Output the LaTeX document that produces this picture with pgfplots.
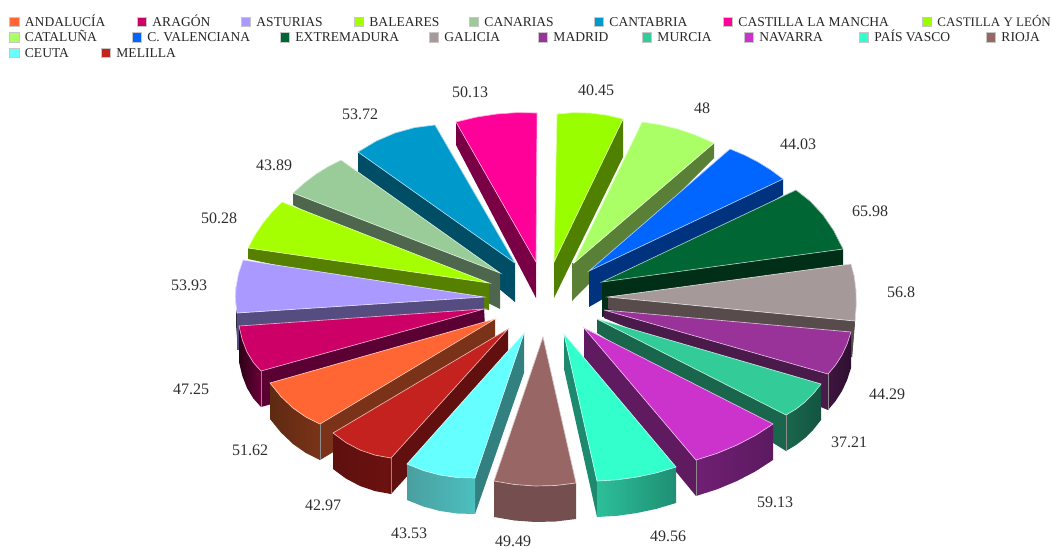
\documentclass[border=0pt]{standalone}
\usepackage{fontspec}
\setmainfont{Liberation Serif}
\usepackage{pgfplots}
\pgfplotsset{compat=1.18}
\newcommand\hc[1]{\definecolor{c#1}{HTML}{#1}}
\hc{4F8000}\hc{99FF00}\hc{5A8038}\hc{AAFF66}\hc{00337F}\hc{0066FF}\hc{002E17}\hc{006633}\hc{332B2B}\hc{574B4B}\hc{A69999}\hc{4A1A4A}\hc{3F1540}\hc{2E0F30}\hc{993399}\hc{1A664D}\hc{135540}\hc{33CC99}\hc{5F1A60}\hc{6F1F72}\hc{5C1A60}\hc{CC33CC}\hc{1D8A6F}\hc{2CBF99}\hc{1F8F74}\hc{33FFCC}\hc{7A0046}\hc{FF0099}\hc{004D66}\hc{0099CC}\hc{4D664D}\hc{99CC99}\hc{558000}\hc{A6FF00}\hc{2E2A40}\hc{554D80}\hc{AA99FF}\hc{5A0032}\hc{2E0018}\hc{6A0038}\hc{CC0066}\hc{7A3318}\hc{5E2A12}\hc{FF6633}\hc{62100F}\hc{5E100E}\hc{6B1210}\hc{C4221F}\hc{338080}\hc{4A9FA0}\hc{4CBFBF}\hc{66FFFF}\hc{754F4F}\hc{996666}
\newcommand\topf[2]{\addplot[fill=c#1,draw=white!65!c#1,line width=0.5pt] coordinates {#2} --cycle;}
\newcommand\side[2]{\addplot[fill=c#1,draw=none] coordinates {#2} --cycle;}
\newcommand\grad[3]{\addplot[left color=c#1,right color=c#2,draw=none] coordinates {#3} --cycle;}
\newcommand\seam[1]{\addplot[draw=white!55!black,line width=0.4pt] coordinates {#1};}
\newcommand\leg[4]{\addplot[only marks,mark=square*,mark size=3.6pt,mark options={fill=c#1,draw=black!22,line width=0.5pt}] coordinates {(#2,#3)};
 \node[anchor=base west,inner sep=0pt,text=black!85,font=\fontsize{10.15}{10}\selectfont] at (axis cs:#2+10.2,#3+4.4) {#4};}
\newcommand\val[3]{\node[text=black!82,font=\fontsize{12}{12}\selectfont,inner sep=0pt] at (axis cs:#1,#2) {#3};}
\begin{document}
\begin{tikzpicture}
\path[use as bounding box] (0,0) rectangle (789pt,411.75pt);
\begin{axis}[at={(0,0)},anchor=south west,scale only axis,width=789pt,height=411.75pt,
 xmin=0,xmax=1052,ymin=0,ymax=549,y dir=reverse,hide axis,clip=false]
% Castilla y Leon
\side{4F8000}{(623,119)(623,157)(554,298)(554,262)}
\topf{99FF00}{(557,114)(573.5,112.6)(590,113)(606.5,115.1)(623,119)(554,262)}
% Cataluna
\side{5A8038}{(574,263)(714,143)(714,158)(572,301)(572,263)}
\topf{AAFF66}{(642,122)(660,124.6)(678,129)(696,135.1)(714,143)(574,263)}
% C. Valenciana
\side{00337F}{(589,271)(783,179)(783,195)(589,307)}
\topf{0066FF}{(730,149)(744.4,155)(758,162)(770.9,170)(783,179)(589,271)}
% Extremadura
\side{002E17}{(602,282)(843,249)(843,265)(602,317)}
\topf{006633}{(796,190)(810.4,201.4)(823,215)(833.9,230.9)(843,249)(602,282)}
% Galicia
\side{332B2B}{(851,290)(856,290)(855,321)(852,357)(848,357)}
\side{574B4B}{(608,297)(855,321)(852,357)(608,309)}
\topf{A69999}{(851,264)(854.3,276.4)(856,290)(856.3,304.9)(855,321)(608,297)}
% Madrid
\side{4A1A4A}{(604,310)(828,374)(828,410)(604,318)}
\grad{3F1540}{2E0F30}{(828,374)(835.6,365)(842,355)(847.1,344)(851,332)(851,368)(847.1,380)(842,391)(835.6,401)(828,410)}
\topf{993399}{(851,332)(847.1,344)(842,355)(835.6,365)(828,374)(604,310)}
\seam{(828,374)(828,410)}
% Murcia
\side{1A664D}{(597,319)(786,415)(786,451)(597,333)}
\grad{1A664D}{135540}{(786,415)(795.9,409.1)(805,402)(813.4,393.6)(821,384)(821,420)(813.4,429.6)(805,438)(795.9,445.1)(786,451)}
\topf{33CC99}{(821,384)(813.4,393.6)(805,402)(795.9,409.1)(786,415)(597,319)}
\seam{(786,415)(786,451)}
% Navarra
\side{5F1A60}{(584,328)(696,460)(696,496)(584,360)}
\grad{6F1F72}{5C1A60}{(696,460)(717.1,453.3)(737,445)(755.6,435.3)(773,424)(773,460)(755.6,471.3)(737,481)(717.1,489.3)(696,496)}
\topf{CC33CC}{(773,424)(755.6,435.3)(737,445)(717.1,453.3)(696,460)(584,328)}
\seam{(696,460)(696,496)}
% Pais Vasco
\side{1D8A6F}{(564,334)(597,481)(597,517)(564,369)}
\grad{2CBF99}{1F8F74}{(597,481)(617.1,479.8)(637,477)(656.6,472.8)(676,467)(676,503)(656.6,508.8)(637,513)(617.1,515.8)(597,517)}
\topf{33FFCC}{(676,467)(656.6,472.8)(637,477)(617.1,479.8)(597,481)(564,334)}
% Castilla la Mancha
\side{7A0046}{(456,122)(536,262)(536,298)(456,145)}
\topf{FF0099}{(456,122)(476.6,117.1)(497,114)(517.1,112.6)(537,113)(536,262)}
% Cantabria
\side{004D66}{(358,152)(515,263)(515,302)(358,172)}
\topf{0099CC}{(358,152)(376.1,141.1)(395,133)(414.6,127.6)(435,125)(515,263)}
% Canarias
\side{4D664D}{(293,193)(500,273)(500,309)(293,205)}
\topf{99CC99}{(293,193)(304.3,182.9)(316,174)(328.3,166.4)(341,160)(500,273)}
% Baleares
\side{558000}{(248,248)(489,283)(489,310)(248,259)}
\topf{A6FF00}{(248,248)(255,235)(263,223)(272,212)(282,202)(489,283)}
% Asturias
\side{2E2A40}{(237,313)(235.5,300)(236,287)(236,325)(238,350)}
\side{554D80}{(237,313)(484,297)(484,333)(237,350)}
\topf{AA99FF}{(237,313)(235.5,300.1)(236,287)(238.5,273.6)(243,260)(484,297)}
% Aragon
\side{5A0032}{(261,371)(484,309)(486,345)(261,407)}
\grad{2E0018}{6A0038}{(239,326)(242.3,339.9)(247,352)(253.3,362.4)(261,371)(261,407)(253.3,398.4)(247,388)(242.3,375.9)(239,362)}
\topf{CC0066}{(261,371)(253.3,362.4)(247,352)(242.3,339.9)(239,326)(484,309)}
\seam{(261,371)(261,407)}
% Andalucia
\side{7A3318}{(320,424)(495,319)(495,355)(320,460)}
\grad{5E2A12}{7A3318}{(270,383)(281,396.6)(293,408)(306,417.1)(320,424)(320,460)(306,453.1)(293,444)(281,432.6)(270,419)}
\topf{FF6633}{(320,424)(306,417.1)(293,408)(281,396.6)(270,383)(495,319)}
\seam{(320,424)(320,460)}
% Melilla
\side{62100F}{(391,458)(508,329)(508,365)(391,494)}
\grad{5E100E}{6B1210}{(333,433)(346,442.6)(360,450)(375,455.1)(391,458)(391,494)(375,491.1)(360,486)(346,478.6)(333,469)}
\topf{C4221F}{(391,458)(375,455.1)(360,450)(346,442.6)(333,433)(508,329)}
\seam{(391,458)(391,494)}
% Ceuta
\side{338080}{(475,478)(524,333)(524,373)(475,514)}
\grad{4A9FA0}{4CBFBF}{(407,464)(423.3,470.5)(440,475)(457.3,477.5)(475,478)(475,514)(457.3,513.5)(440,511)(423.3,506.5)(407,500)}
\topf{66FFFF}{(475,478)(457.3,477.5)(440,475)(423.3,470.5)(407,464)(524,333)}
% Rioja
\side{754F4F}{(494,481)(514.5,484.5)(535,486)(555.5,485.5)(576,483)(576,519)(555.5,521.5)(535,522)(514.5,520.5)(494,517)}
\topf{996666}{(576,483)(555.5,485.5)(535,486)(514.5,484.5)(494,481)(543,337)}
% value labels
\val{470}{92}{50.13}
\val{360}{114}{53.72}
\val{274}{165}{43.89}
\val{219}{218}{50.28}
\val{189}{285}{53.93}
\val{191}{389}{47.25}
\val{250}{450}{51.62}
\val{323}{505}{42.97}
\val{409}{533}{43.53}
\val{513}{541.5}{49.49}
\val{668}{536}{49.56}
\val{775}{502}{59.13}
\val{849}{442}{37.21}
\val{887}{394}{44.29}
\val{901}{292}{56.8}
\val{870}{211}{65.98}
\val{798}{144}{44.03}
\val{702}{108}{48}
\val{596}{90}{40.45}
% legend
\leg{FF6633}{14.5}{22}{ANDALUCÍA}
\leg{CC0066}{142}{22}{ARAGÓN}
\leg{AA99FF}{246}{22}{ASTURIAS}
\leg{A6FF00}{359}{22}{BALEARES}
\leg{99CC99}{474}{22}{CANARIAS}
\leg{0099CC}{599}{22}{CANTABRIA}
\leg{FF0099}{728}{22}{CASTILLA LA MANCHA}
\leg{99FF00}{927}{22}{\fontsize{9.75}{10}\selectfont CASTILLA Y LEÓN}
\leg{AAFF66}{14.5}{37.5}{CATALUÑA}
\leg{0066FF}{137}{37.5}{C. VALENCIANA}
\leg{006633}{285}{37.5}{EXTREMADURA}
\leg{A69999}{434}{37.5}{GALICIA}
\leg{993399}{543}{37.5}{MADRID}
\leg{33CC99}{647}{37.5}{MURCIA}
\leg{CC33CC}{749}{37.5}{NAVARRA}
\leg{33FFCC}{864}{37.5}{PAÍS VASCO}
\leg{996666}{991}{37.5}{RIOJA}
\leg{66FFFF}{14.5}{53}{CEUTA}
\leg{C4221F}{106}{53}{MELILLA}
\end{axis}
\end{tikzpicture}
\end{document}
